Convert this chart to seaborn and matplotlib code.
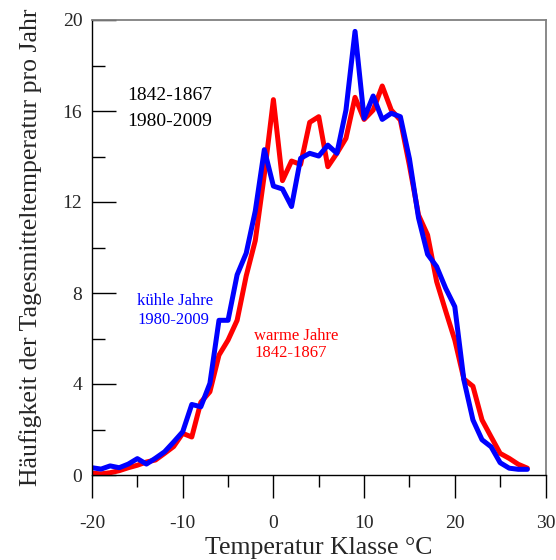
import matplotlib
matplotlib.use("Agg")
import matplotlib.pyplot as plt
import seaborn as sns
import pandas as pd
from matplotlib.ticker import MultipleLocator

temps = list(range(-20, 29))
kuehl_1980_2009 = [0.32, 0.26, 0.40, 0.32, 0.48, 0.72, 0.48, 0.74, 1.02, 1.45,
                   1.9, 3.1, 3.0, 4.03, 6.8, 6.8, 8.8, 9.75, 11.6, 14.3,
                   12.7, 12.57, 11.8, 13.92, 14.14, 14.02, 14.5, 14.14, 16.04, 19.5,
                   15.68, 16.66, 15.63, 15.9, 15.75, 13.9, 11.3, 9.7, 9.16, 8.2,
                   7.4, 4.18, 2.42, 1.55, 1.24, 0.54, 0.3, 0.25, 0.25]
warm_1842_1867 = [0.08, 0.05, 0.1, 0.19, 0.32, 0.43, 0.57, 0.66, 0.95, 1.25,
                  1.83, 1.67, 3.2, 3.66, 5.27, 5.93, 6.8, 8.75, 10.3, 13.2,
                  16.5, 12.94, 13.8, 13.65, 15.5, 15.75, 13.55, 14.14, 14.8, 16.6,
                  15.63, 16.04, 17.1, 16.04, 15.6, 13.6, 11.43, 10.55, 8.5, 7.2,
                  5.93, 4.22, 3.9, 2.42, 1.68, 0.95, 0.73, 0.47, 0.3]

df = pd.DataFrame({
    "T": temps * 2,
    "H": warm_1842_1867 + kuehl_1980_2009,
    "serie": ["warm"] * len(temps) + ["kuehl"] * len(temps),
})

sns.set_style("white")
plt.rcParams["font.family"] = ["Liberation Serif", "DejaVu Serif"]
plt.rcParams["axes.unicode_minus"] = False

fig = plt.figure(figsize=(5.56, 5.60), dpi=100)
ax = fig.add_axes([92/556, 85/560, 453.5/556, 455/560])

sns.lineplot(data=df, x="T", y="H", hue="serie",
             palette={"warm": "#ff0000", "kuehl": "#0000ff"},
             hue_order=["warm", "kuehl"], linewidth=3.6, legend=False, ax=ax)

ax.set_xlim(-20, 30)
ax.set_ylim(0, 20)
ax.xaxis.set_major_locator(MultipleLocator(10))
ax.xaxis.set_minor_locator(MultipleLocator(5))
ax.yaxis.set_major_locator(MultipleLocator(4))
ax.yaxis.set_minor_locator(MultipleLocator(2))

ax.tick_params(axis="x", which="major", direction="out", length=16.5, width=1.0,
               color="black", labelsize=14, pad=12, bottom=True)
ax.tick_params(axis="x", which="minor", direction="out", length=8.5, width=1.0,
               color="black", bottom=True)
ax.tick_params(axis="y", which="major", direction="in", length=17, width=1.0,
               color="black", labelsize=14, pad=7, left=True)
ax.tick_params(axis="y", which="minor", direction="in", length=9.5, width=1.0,
               color="black", left=True)

for s in ["left", "bottom"]:
    ax.spines[s].set_color("black")
    ax.spines[s].set_linewidth(1.0)
for s in ["top", "right"]:
    ax.spines[s].set_color("#808080")
    ax.spines[s].set_linewidth(1.3)

ax.set_xlabel("Temperatur Klasse °C", fontsize=18.5, labelpad=4)
ax.set_ylabel("Häufigkeit der Tagesmitteltemperatur pro Jahr", fontsize=18.5, labelpad=15)

ax.text(-16.14, 16.7, "1842-1867", fontsize=14, color="black", va="center", ha="left")
ax.text(-16.14, 15.56, "1980-2009", fontsize=14, color="black", va="center", ha="left")
ax.text(-15.04, 7.65, "kühle Jahre", fontsize=12, color="#0000ff", va="center", ha="left")
ax.text(-15.04, 6.81, "1980-2009", fontsize=12, color="#0000ff", va="center", ha="left")
ax.text(-2.14, 6.1, "warme Jahre", fontsize=12, color="#ff0000", va="center", ha="left")
ax.text(-2.14, 5.36, "1842-1867", fontsize=12, color="#ff0000", va="center", ha="left")

fig.savefig("out.png", dpi=100)
